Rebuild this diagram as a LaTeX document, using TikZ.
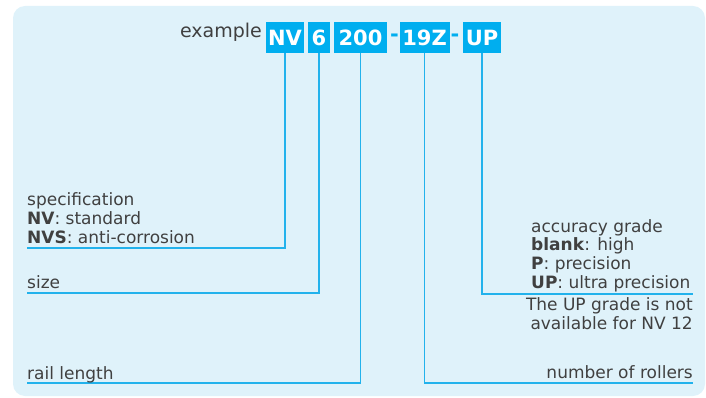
\documentclass[tikz,border=0pt]{standalone}
\usepackage{fontspec}
\setmainfont{DejaVu Sans}
\definecolor{bgblue}{HTML}{DFF2FA}
\definecolor{boxcyan}{HTML}{00AEEF}
\definecolor{linecyan}{HTML}{22B2EC}
\definecolor{txtgray}{HTML}{404040}
\tikzset{
  codebox/.style={fill=boxcyan, text=white, inner sep=0pt, minimum height=31pt,
    font=\fontsize{21}{21}\selectfont\bfseries},
  codedash/.style={text=boxcyan, inner sep=0pt, font=\fontsize{21}{21}\selectfont\bfseries},
  conn/.style={draw=linecyan, line width=1.4pt},
  lbl/.style={text=txtgray, inner sep=0pt, font=\fontsize{17}{18.7}\selectfont},
}
\begin{document}
\begin{tikzpicture}[x=1pt,y=-1pt]
\useasboundingbox (0,0) rectangle (706,398);
\fill[bgblue, rounded corners=12pt] (13,6) rectangle (705,396);
% header
\node[lbl, anchor=base east, font=\fontsize{19}{19}\selectfont] (ex) at (262,37.3) {example};
\node[codebox, minimum width=38pt] (nv) at (285,37.5) {NV};
\node[codebox, minimum width=22pt] (six) at (319,37.5) {6};
\node[codebox, minimum width=53pt] (len) at (360.5,37.5) {200};
\node[codedash] (d1) at (394.5,37.5) {-};
\node[codebox, minimum width=50pt] (rol) at (424.5,37.5) {19Z};
\node[codedash] (d2) at (455,37.5) {-};
\node[codebox, minimum width=38pt] (up) at (482,37.5) {UP};
% end coordinates
\coordinate (cspec) at (27,248);
\coordinate (csize) at (27,293);
\coordinate (clen) at (27,383);
\coordinate (crol) at (693,383);
\coordinate (cup) at (693,294);
% connectors
\draw[conn] (nv.south) |- (cspec);
\draw[conn] (six.south) |- (csize);
\draw[conn] (len.south) |- (clen);
\draw[conn] (rol.south) |- (crol);
\draw[conn] (up.south) |- (cup);
% labels
\node[lbl, anchor=base west, align=left] (tspec) at (27,243.3)
  {specification\\\textbf{NV}: standard\\\textbf{NVS}: anti-corrosion};
\node[lbl, anchor=base west] (tsize) at (27,288.3) {size};
\node[lbl, anchor=base west] (tlen) at (27,379) {rail length};
\node[lbl, anchor=base west, align=left] (tacc) at (531,288.3)
  {accuracy grade\\\textbf{blank}: high\\\textbf{P}: precision\\\textbf{UP}: ultra precision};
\node[lbl, anchor=base east, align=right] (tnote) at (693,329.3)
  {The UP grade is not\\available for NV 12};
\node[lbl, anchor=base east] (trol) at (693,378.3) {number of rollers};
\end{tikzpicture}
\end{document}
